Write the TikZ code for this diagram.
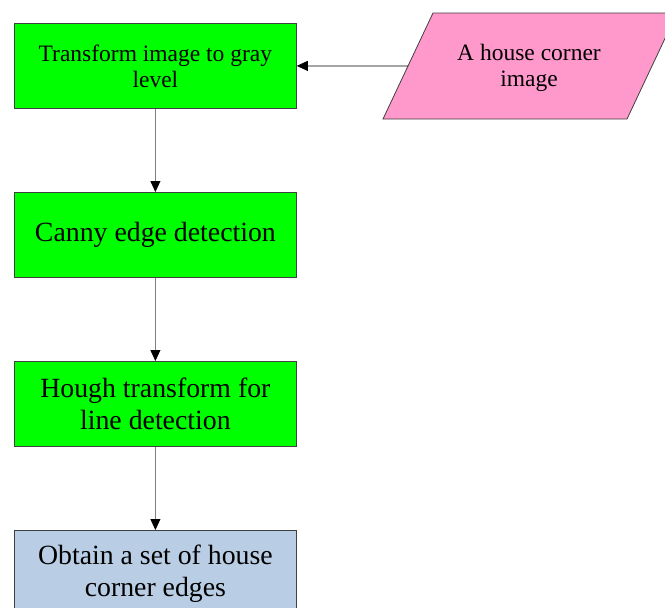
\documentclass[tikz,border=0pt]{standalone}
\usepackage{fontspec}
\setmainfont{Liberation Serif}
\usetikzlibrary{arrows.meta}
\definecolor{boxgreen}{HTML}{00FF00}
\definecolor{boxpink}{HTML}{FF99CC}
\definecolor{boxblue}{HTML}{B9CDE5}
\definecolor{edgegray}{HTML}{404040}
\definecolor{linegray}{HTML}{7F7F7F}
\tikzset{
  procbox/.style={draw=edgegray, line width=0.8pt, minimum width=282pt, minimum height=85pt,
    inner sep=2pt, align=center, anchor=north west},
  smalltext/.style={font=\fontsize{23.5pt}{26pt}\selectfont},
  bigtext/.style={font=\fontsize{27.8pt}{32pt}\selectfont},
  flowarrow/.style={draw=linegray, line width=0.8pt, -{Triangle[length=11pt,width=10pt,fill=black,color=black]}},
  inarrow/.style={draw=black, line width=0.8pt, -{Triangle[length=11pt,width=10pt]}},
  datashape/.style={draw=edgegray, line width=0.8pt, fill=boxpink},
}
\begin{document}
\begin{tikzpicture}[x=1pt,y=-1pt]
\useasboundingbox (0,0) rectangle (665,608);
\clip (0,0) rectangle (665,608);
\node[procbox, fill=boxgreen, smalltext] (b1) at (14,23) {Transform image to gray\\level};
\node[procbox, fill=boxgreen, bigtext] (b2) at (14,192) {Canny edge detection};
\node[procbox, fill=boxgreen, bigtext] (b3) at (14,361) {Hough transform for\\line detection};
\node[procbox, fill=boxblue, bigtext, minimum height=86pt] (b4) at (14,530) {Obtain a set of house\\corner edges};
\path[datashape] (433,13) -- (677,13) -- (627,119) -- (383,119) -- cycle;
\node[align=center, smalltext, inner sep=0pt] (img) at (529,68) {A house corner\\image};
\coordinate (imgL) at (408,66);
\draw[inarrow] (imgL) -- (b1.east);
\draw[flowarrow] (b1.south) -- (b2.north);
\draw[flowarrow] (b2.south) -- (b3.north);
\draw[flowarrow] (b3.south) -- (b4.north);
\end{tikzpicture}
\end{document}
